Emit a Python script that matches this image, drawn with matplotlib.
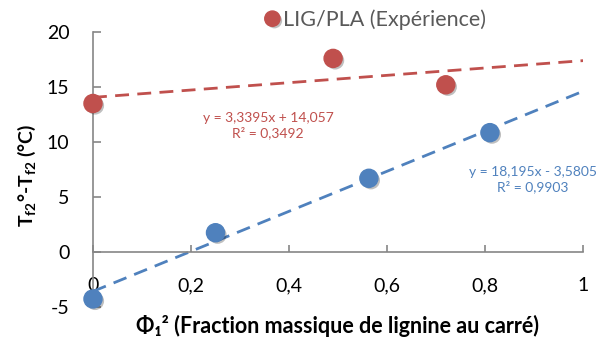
import matplotlib
matplotlib.use("Agg")
import matplotlib.pyplot as plt
import matplotlib.patheffects as pe
from matplotlib.lines import Line2D
import numpy as np

plt.rcParams['font.family'] = ['Lato', 'DejaVu Sans']
plt.rcParams['mathtext.fontset'] = 'custom'
plt.rcParams['mathtext.rm'] = 'Lato'
plt.rcParams['mathtext.bf'] = 'Lato:bold'
plt.rcParams['axes.unicode_minus'] = False

# data
exp_x = [0.0, 0.49, 0.72]
exp_y = [13.5, 17.6, 15.2]
model_x = [0.0, 0.25, 0.563, 0.81]
model_y = [-4.27, 1.75, 6.7, 10.85]

exp_fit = (3.3395, 14.057)
model_fit = (18.195, -3.5805)
exp_eq = "y = 3,3395x + 14,057\nR² = 0,3492"
model_eq = "y = 18,195x - 3,5805\nR² = 0,9903"

x_ticks = [0, 0.2, 0.4, 0.6, 0.8, 1]
x_tick_labels = ["0", "0,2", "0,4", "0,6", "0,8", "1"]
y_ticks = [-5, 0, 5, 10, 15, 20]

RED = "#C0504D"
BLUE = "#4F81BD"
GRAY = "#868686"

fig = plt.figure(figsize=(6.05, 3.43), dpi=100)
ax = fig.add_axes([0.1537, 0.105, 0.81, 0.8017])

shadow = [pe.SimplePatchShadow(offset=(1.5, -1.5), alpha=0.25, shadow_rgbFace="black"), pe.Normal()]

xs = np.array([0.0, 1.0])
ax.plot(xs, exp_fit[0] * xs + exp_fit[1], color=RED, lw=2, ls=(0, (5, 3)))
ax.plot(xs, model_fit[0] * xs + model_fit[1], color=BLUE, lw=2, ls=(0, (5, 3)))

ax.plot(exp_x, exp_y, "o", color=RED, ms=13, mec=RED, clip_on=False, zorder=5, path_effects=shadow)
ax.plot(model_x, model_y, "o", color=BLUE, ms=13, mec=BLUE, clip_on=False, zorder=5, path_effects=shadow)

ax.text(0.357, 11.5, exp_eq, color=RED, fontsize=10, ha="center", va="center", linespacing=1.25)
ax.text(0.898, 6.6, model_eq, color=BLUE, fontsize=10, ha="center", va="center", linespacing=1.25)

ax.set_xlim(0, 1)
ax.set_ylim(-5, 20)
ax.spines["top"].set_visible(False)
ax.spines["right"].set_visible(False)
ax.spines["bottom"].set_position(("data", 0))
for s in ("left", "bottom"):
    ax.spines[s].set_color(GRAY)
    ax.spines[s].set_linewidth(1.2)

ax.set_xticks(x_ticks)
ax.set_xticklabels(x_tick_labels)
ax.set_yticks(y_ticks)
ax.tick_params(axis="x", direction="in", length=5, color=GRAY, width=1.2, pad=18, labelsize=14)
ax.tick_params(axis="y", direction="in", length=6, color=GRAY, width=1.2, pad=17, labelsize=14)

fig.text(0.045, 0.49, r"$\mathbf{T_{f2}}$°-$\mathbf{T_{f2}}$ (°C)", rotation=90, ha="center", va="center",
         fontsize=14, fontweight="bold")
fig.text(0.558, 0.05, "Φ₁² (Fraction massique de lignine au carré)", ha="center", va="center",
         fontsize=15.5, fontweight="bold")

handle = Line2D([], [], marker="o", ls="none", color=RED, ms=11, path_effects=shadow)
leg = fig.legend([handle], ["LIG/PLA (Expérience)"], loc="center", bbox_to_anchor=(0.618, 0.942),
                 frameon=False, fontsize=15.5, handletextpad=0.0, handlelength=1.0)
for t in leg.get_texts():
    t.set_color("#595959")

fig.savefig("out.png", dpi=100)
